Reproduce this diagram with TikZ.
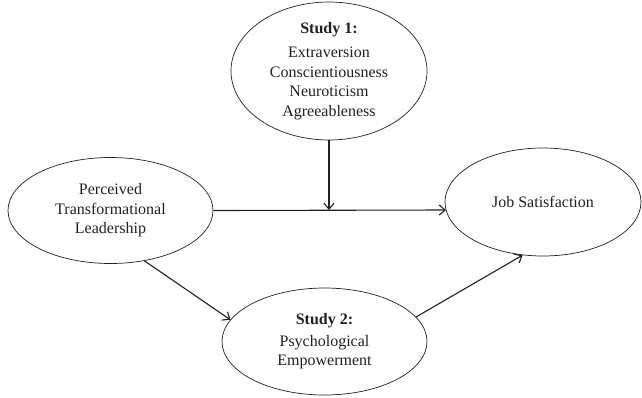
\documentclass[tikz,border=0pt]{standalone}
\usepackage{fontspec}
\setmainfont{Liberation Serif}
\usetikzlibrary{shapes.geometric,arrows.meta}
\definecolor{ink}{RGB}{35,31,32}
\begin{document}
\begin{tikzpicture}[x=1pt,y=-1pt,
  oval/.style={ellipse,draw=ink,line width=0.7pt,inner sep=0pt,align=center,text=ink,
    font=\fontsize{16}{19.5}\selectfont},
  link/.style={draw=ink,line width=1.1pt,-{Straight Barb[length=6pt,width=10pt,line width=1.1pt]}}]
\useasboundingbox (0,0) rectangle (642,397);
\node[oval,minimum width=196pt,minimum height=136pt] (T) at (329,71)
  {\textbf{Study 1:}\\[5pt]Extraversion\\Conscientiousness\\Neuroticism\\Agreeableness};
\node[oval,minimum width=205pt,minimum height=106pt] (L) at (110.5,210.5)
  {Perceived\\Transformational\\Leadership};
\node[oval,minimum width=196pt,minimum height=108pt] (R) at (543,202)
  {Job Satisfaction};
\node[oval,minimum width=205pt,minimum height=107pt] (B) at (324.5,341.5)
  {\textbf{Study 2:}\\[2pt]Psychological\\Empowerment};
\coordinate (re) at (446,210);
\coordinate (m) at (T.south |- re);
\draw[link] (L.east) -- (re);
\draw[link] (T.south) -- (m);
\draw[link] (L.-56) -- (B.167);
\draw[link] (B.15) -- (R.249);
\end{tikzpicture}
\end{document}
